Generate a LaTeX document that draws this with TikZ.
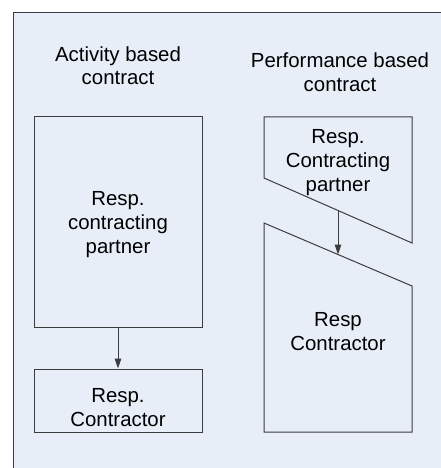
\documentclass[tikz,border=0pt]{standalone}
\usepackage{fontspec}
\setmainfont{Liberation Sans}
\usetikzlibrary{arrows.meta}
\definecolor{panelbg}{RGB}{232,238,248}
\definecolor{ink}{RGB}{60,60,60}
\begin{document}
\begin{tikzpicture}[x=1pt,y=-1pt,
  every node/.style={font=\fontsize{20.4}{24}\selectfont, inner sep=0pt, align=center, text=black},
  boxline/.style={draw=ink, line width=1pt},
  link/.style={draw=ink, line width=1pt, -{Triangle[length=10pt,width=6.5pt]}}]
\useasboundingbox (0,0) rectangle (441,468);
% panel
\fill[panelbg] (13,13) rectangle (441,468);
\draw[ink, line width=1pt] (441,13) -- (13,13) -- (13,468);

% column headings (base anchor = baseline of the last line)
\node[anchor=base] (hleft) at (118,85) {Activity based\\contract};
\node[anchor=base] (hright) at (340,92) {Performance based\\contract};

% activity based: two stacked boxes
\node[boxline, minimum width=168pt, minimum height=210pt] (partnerA) at (118,222) {};
\node[anchor=base] (partnerAtxt) at (118,253) {Resp.\\contracting\\partner};
\node[boxline, minimum width=168pt, minimum height=63pt] (contrA) at (118,400.5) {};
\node[anchor=base] (contrAtxt) at (118,426) {Resp.\\Contractor};
\draw[link] (partnerA.south) -- (contrA.north);

% performance based: two slanted blocks
\draw[boxline] (264,117) -- (412,117) -- (412,243) -- (264,178) -- cycle;
\draw[boxline] (264,223) -- (412,286) -- (412,432) -- (264,432) -- cycle;
\path (264,178) -- (412,243) coordinate[pos=0.5] (partnerBbot);
\path (264,223) -- (412,286) coordinate[pos=0.5] (contrBtop);
\node[anchor=base] (partnerBtxt) at (338,191) {Resp.\\Contracting\\partner};
\node[anchor=base] (contrBtxt) at (338,350) {Resp\\Contractor};
\draw[link] (partnerBbot) -- (contrBtop);
\end{tikzpicture}
\end{document}
